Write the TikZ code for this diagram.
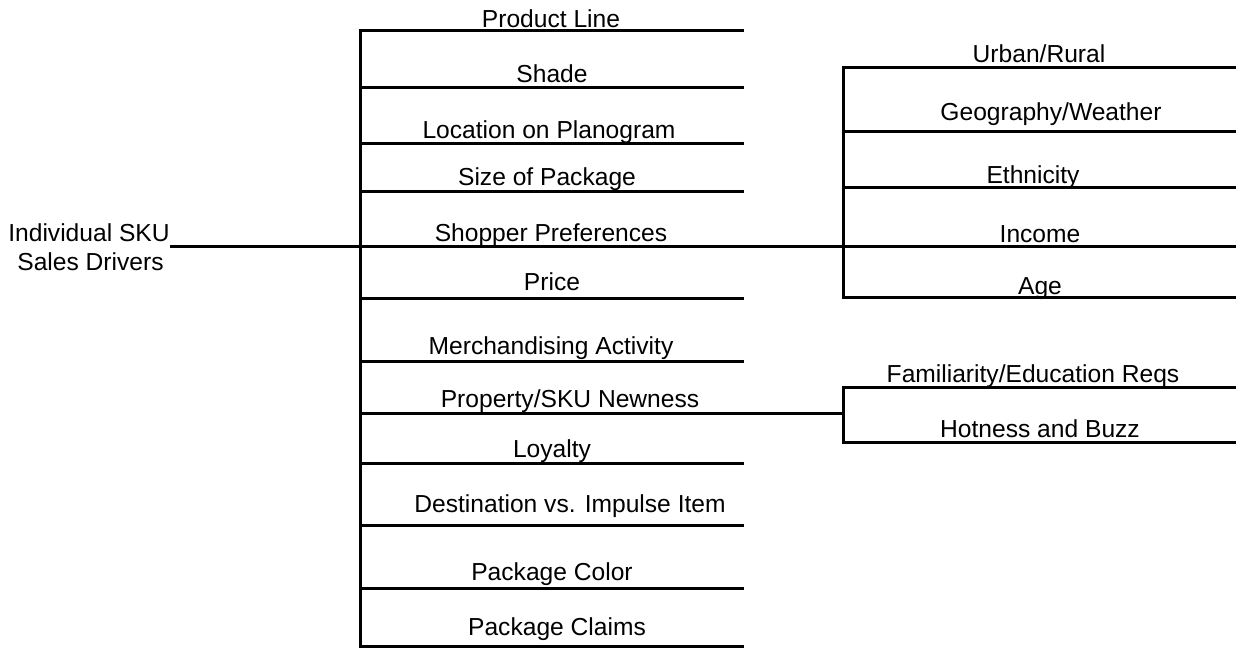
\documentclass[tikz,border=0pt]{standalone}
\usepackage{fontspec}
\setmainfont{Liberation Sans}
\begin{document}
\begin{tikzpicture}[x=1pt,y=-1pt,
  lbl/.style={anchor=base, inner sep=0pt, font=\fontsize{24.6}{29.5}\selectfont},
  wire/.style={line width=3pt, line cap=rect}]
\useasboundingbox (0,0) rectangle (1236,649);
% root
\node[lbl] (root1) at (89,241.7) {Individual SKU};
\node[lbl] (root2) at (90.5,270.7) {Sales Drivers};
\coordinate (t0) at (171,246);
% main column
\coordinate (mtop) at (360,30);
\coordinate (mbot) at (360,646);
\coordinate (mj) at (360,246);
\draw[wire] (t0) -- (mj);
\draw[wire] (mtop) -- (mbot);
\foreach \y/\nm in {30/m1,87/m2,143/m3,191/m4,298/m6,361/m7,463/m9,525/m10,588/m11,646/m12}{
  \draw[wire] (360,\y) coordinate (\nm a) -- (742,\y) coordinate (\nm b);
}
\node[lbl] (n1) at (551,27) {Product Line};
\node[lbl] (n2) at (552,82) {Shade};
\node[lbl] (n3) at (549,138) {Location on Planogram};
\node[lbl] (n4) at (547,185) {Size of Package};
\node[lbl] (n5) at (551,241.7) {Shopper Preferences};
\node[lbl] (n6) at (552,290.7) {Price};
\node[lbl] (n7) at (551,354) {Merchandising Activity};
\node[lbl] (n8) at (570,407) {Property/SKU Newness};
\node[lbl] (n9) at (552,457) {Loyalty};
\node[lbl] (n10) at (570,512) {Destination vs. Impulse Item};
\node[lbl] (n11) at (552,580) {Package Color};
\node[lbl] (n12) at (557,635) {Package Claims};
% shopper preferences branch
\coordinate (sj) at (843,246);
\draw[wire] (mj) -- (sj);
\draw[wire] (843,67) -- (843,297);
\foreach \y/\nm in {67/s1,131/s2,187/s3,246/s4,297/s5}{
  \draw[wire] (843,\y) coordinate (\nm a) -- (1234,\y) coordinate (\nm b);
}
\node[lbl] (r1) at (1039,62) {Urban/Rural};
\node[lbl] (r2) at (1051,120) {Geography/Weather};
\node[lbl] (r3) at (1033,183) {Ethnicity};
\node[lbl] (r4) at (1040,242) {Income};
\node[lbl] (r5) at (1040,294) {Age};
% property branch
\coordinate (pa) at (360,413);
\coordinate (pj) at (843,413);
\draw[wire] (pa) -- (pj);
\draw[wire] (843,387) -- (843,442);
\foreach \y/\nm in {387/p1,442/p2}{
  \draw[wire] (843,\y) coordinate (\nm a) -- (1234,\y) coordinate (\nm b);
}
\node[lbl] (q1) at (1033,382) {Familiarity/Education Reqs};
\node[lbl] (q2) at (1040,437) {Hotness and Buzz};
\end{tikzpicture}
\end{document}
